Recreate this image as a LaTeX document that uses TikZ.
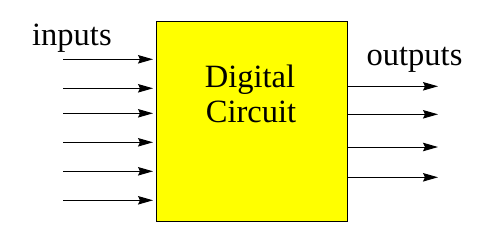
\documentclass[tikz,border=0pt]{standalone}
\usepackage{fontspec}
\setmainfont{Liberation Serif}
\usetikzlibrary{arrows.meta}
\definecolor{boxyellow}{RGB}{255,255,0}
\begin{document}
\begin{tikzpicture}[x=1pt,y=-1pt,
  sig/.style={line width=1pt,-{Stealth[length=15pt,width=8.5pt,inset=2pt]}},
  lbl/.style={font=\fontsize{32.5}{36}\selectfont,inner sep=0pt,anchor=base west}]
\useasboundingbox (0,0) rectangle (494,244);
\node[draw=black,line width=1pt,fill=boxyellow,minimum width=191pt,minimum height=200pt,inner sep=0pt,anchor=north west] (dc) at (156.3,21.3) {};
\node[lbl,anchor=base] (t1) at (250,87) {Digital};
\node[lbl,anchor=base] (t2) at (251,122) {Circuit};
\node[lbl] (inl) at (32,45) {inputs};
\node[lbl] (outl) at (366.5,65.5) {outputs};
\foreach \i/\y in {1/59.3,2/88.3,3/113.3,4/142.3,5/171.3,6/200.3}{
  \coordinate (is\i) at (63.3,\y);
  \coordinate (ie\i) at (153,\y);
  \draw[sig] (is\i) -- (ie\i);
}
\foreach \i/\y in {1/86.3,2/114.3,3/147,4/177.3}{
  \coordinate (os\i) at (dc.east |- 0,\y);
  \coordinate (oe\i) at (438,\y);
  \draw[sig] (os\i) -- (oe\i);
}
\end{tikzpicture}
\end{document}
